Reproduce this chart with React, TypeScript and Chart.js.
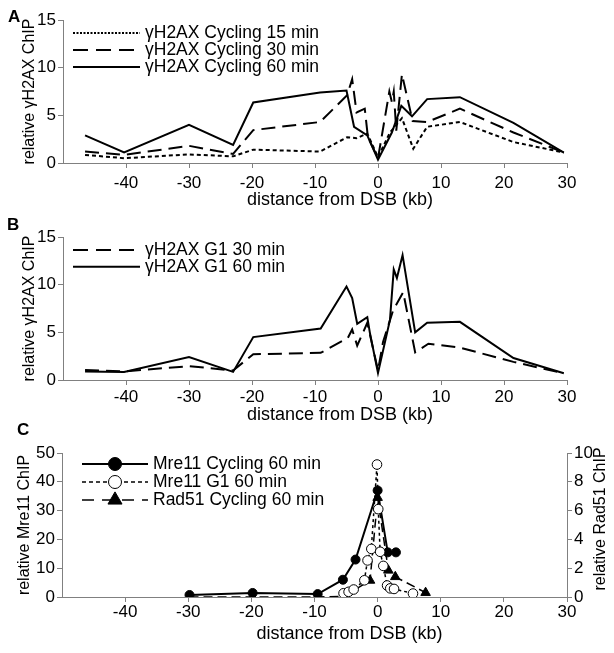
import React, { useEffect, useRef } from 'react';
import { Chart, registerables } from 'chart.js';

Chart.register(...registerables);

const FONT = '"Liberation Sans", Arial, Helvetica, sans-serif';

// ---------- shared axis text ----------
const xTitleText = 'distance from DSB (kb)';
const xTickValues = [-40, -30, -20, -10, 0, 10, 20, 30];
const yTitleAB = 'relative γH2AX ChIP';
const yTitleC = 'relative Mre11 ChIP';
const yTitleC2 = 'relative Rad51 ChIP';

// ---------- Panel A: γH2AX in cycling cells ----------
const aLabels = ['γH2AX Cycling 15 min', 'γH2AX Cycling 30 min', 'γH2AX Cycling 60 min'];
const aCyc15X = [-46.5, -40.3, -30, -23, -19.8, -9.2, -4.9, -3.4, -1.7, 0, 1.9, 3.8, 5.6, 7.8, 13, 21.5, 29.5];
const aCyc15Y = [0.85, 0.5, 0.9, 0.7, 1.4, 1.2, 2.7, 2.6, 3.1, 0.6, 3.2, 4.7, 1.5, 3.8, 4.3, 2.2, 1.1];
const aCyc30X = [-46.5, -40.3, -30, -23, -19.8, -9.2, -4.9, -4.1, -3.4, -2.1, -1.6, 0, 1.8, 2.2, 2.5, 2.9, 3.8, 5.5, 7.8, 13, 21.5, 29.5];
const aCyc30Y = [1.2, 0.85, 1.8, 0.95, 3.45, 4.3, 7.1, 8.8, 5.3, 5.7, 2.7, 0.5, 7.5, 6.4, 7.5, 3.4, 9.3, 4.4, 4.3, 5.7, 3.2, 1.1];
const aCyc60X = [-46.5, -40.3, -30, -23, -19.8, -9.2, -5, -3.8, -1.7, 0, 2.2, 3.7, 5.4, 7.8, 13, 21.5, 29.5];
const aCyc60Y = [2.9, 1.1, 4.0, 1.9, 6.35, 7.4, 7.6, 3.8, 2.9, 0.35, 3.2, 6.0, 4.9, 6.7, 6.9, 4.2, 1.1];

// ---------- Panel B: γH2AX in G1 cells ----------
const bLabels = ['γH2AX G1 30 min', 'γH2AX G1 60 min'];
const bG130X = [-46.5, -40.3, -30, -23, -19.8, -9.1, -4.8, -4.1, -3.3, -1.7, 0, 0.8, 2.4, 4.0, 5.9, 8.0, 13, 21.5, 29.5];
const bG130Y = [1.05, 0.9, 1.45, 1.0, 2.7, 2.85, 4.4, 5.3, 3.6, 6.0, 1.0, 4.0, 7.3, 9.2, 2.9, 3.8, 3.4, 1.9, 0.7];
const bG160X = [-46.5, -40.3, -30, -23, -19.8, -9.1, -5, -4.1, -3.3, -1.7, -1.3, 0, 1.9, 2.5, 3.0, 3.9, 5.9, 7.8, 13, 21.5, 29.5];
const bG160Y = [0.9, 0.85, 2.4, 0.85, 4.5, 5.4, 9.8, 8.6, 5.9, 6.6, 5.0, 0.75, 6.3, 11.6, 10.7, 13.1, 5.0, 6.0, 6.1, 2.3, 0.7];

// ---------- Panel C: Mre11 / Rad51 ----------
const cLabels = ['Mre11 Cycling 60 min', 'Mre11 G1 60 min', 'Rad51 Cycling 60 min'];
const cMreCycX = [-29.8, -19.8, -9.5, -5.5, -3.5, 0, 1.6, 2.9];
const cMreCycY = [0.7, 1.4, 1.0, 6.0, 13.0, 37, 15.5, 15.5];
const cMreG1X = [-5.4, -4.6, -3.8, -2.1, -1.6, -1.0, -0.1, 0.1, 0.4, 0.9, 1.5, 2.0, 2.6, 5.6];
const cMreG1Y = [1.3, 1.8, 2.6, 5.8, 12.7, 16.7, 46, 30.5, 15.7, 10.8, 4.0, 3.0, 2.8, 1.2];
const cRad51X = [-29.8, -19.8, -9.5, -5.3, -1.2, 0, 1.7, 2.8, 7.6];
const cRad51Y = [0, 0, 0, 0.05, 1.15, 6.9, 1.85, 1.4, 0.3];

const pts = (xs: number[], ys: number[]) => xs.map((x, i) => ({ x, y: ys[i] }));

// ---------- overlay plugin: in-plot legend, x title, right title ----------
const overlayPlugin: any = {
  id: 'overlay',
  afterDraw(chart: any, _args: any, opts: any) {
    const { ctx, chartArea } = chart;
    const { left, right, top, bottom } = chartArea;
    ctx.save();
    const lg = opts.legend;
    if (lg) {
      chart.data.datasets.forEach((ds: any, i: number) => {
        const y = top + lg.top + i * lg.row;
        const x0 = left + lg.left;
        const x1 = x0 + lg.len;
        ctx.save();
        ctx.strokeStyle = ds.borderColor;
        ctx.lineWidth = ds.borderWidth;
        ctx.setLineDash(lg.dash && lg.dash[i] ? lg.dash[i] : ds.borderDash || []);
        ctx.beginPath();
        ctx.moveTo(x0, y);
        ctx.lineTo(x1, y);
        ctx.stroke();
        ctx.setLineDash([]);
        if (ds.pointRadius > 0) {
          const cx = (x0 + x1) / 2;
          const r = lg.marker;
          ctx.fillStyle = ds.pointBackgroundColor;
          ctx.strokeStyle = ds.pointBorderColor;
          ctx.lineWidth = ds.pointBorderWidth;
          ctx.beginPath();
          if (ds.pointStyle === 'triangle') {
            const rr = r * 1.25;
            ctx.moveTo(cx, y - rr);
            ctx.lineTo(cx + rr * 0.866, y + rr * 0.5);
            ctx.lineTo(cx - rr * 0.866, y + rr * 0.5);
            ctx.closePath();
          } else {
            ctx.arc(cx, y, r, 0, Math.PI * 2);
          }
          ctx.fill();
          ctx.stroke();
        }
        ctx.restore();
        ctx.fillStyle = '#000';
        ctx.font = `${lg.size}px ${FONT}`;
        ctx.textAlign = 'left';
        ctx.textBaseline = 'middle';
        ctx.fillText(ds.label, x1 + lg.gap, y);
      });
    }
    const xt = opts.xTitle;
    if (xt) {
      ctx.fillStyle = '#000';
      ctx.font = `${xt.size}px ${FONT}`;
      ctx.textAlign = 'center';
      ctx.textBaseline = 'middle';
      ctx.fillText(xt.text, (left + right) / 2 + xt.dx, bottom + xt.dy);
    }
    const rt = opts.rightTitle;
    if (rt) {
      ctx.save();
      ctx.fillStyle = '#000';
      ctx.font = `${rt.size}px ${FONT}`;
      ctx.textAlign = 'center';
      ctx.textBaseline = 'middle';
      ctx.translate(rt.x, (top + bottom) / 2 + (rt.dy || 0));
      ctx.rotate(-Math.PI / 2);
      ctx.fillText(rt.text, 0, 0);
      ctx.restore();
    }
    ctx.restore();
  },
};

const AXIS_COLOR = '#808080';
const tickFont = { family: FONT, size: 17 };

function xScale(pad: number, h: number) {
  return {
    type: 'linear',
    position: 'bottom',
    min: -50,
    max: 30,
    afterBuildTicks: (s: any) => {
      s.ticks = xTickValues.map((v) => ({ value: v }));
    },
    ticks: {
      font: tickFont,
      color: '#000',
      padding: pad,
      autoSkip: false,
      maxRotation: 0,
      callback: (v: any) => String(v),
    },
    grid: { drawOnChartArea: false, drawTicks: true, tickLength: 5, color: AXIS_COLOR },
    border: { color: AXIS_COLOR, width: 1 },
    afterFit: (s: any) => {
      s.height = h;
    },
  };
}

function yScale(max: number, step: number, title: string, width: number, titlePad: number, position = 'left') {
  return {
    type: 'linear',
    position,
    min: 0,
    max,
    ticks: { stepSize: step, font: tickFont, color: '#000', padding: 2 },
    grid: { drawOnChartArea: false, drawTicks: true, tickLength: 5, color: AXIS_COLOR },
    border: { color: AXIS_COLOR, width: 1 },
    title: {
      display: !!title,
      text: title,
      color: '#000',
      font: { family: FONT, size: 16 },
      padding: { top: titlePad, bottom: 0 },
    },
    afterFit: (s: any) => {
      s.width = width;
    },
  };
}

const lineDs = (label: string, data: any[], dash: number[]) => ({
  type: 'line',
  label,
  data,
  borderColor: '#000',
  borderWidth: 2,
  borderDash: dash,
  pointRadius: 0,
  tension: 0,
  fill: false,
});

const DASH_DOT = [4, 3];
const DASH_LONG = [14, 7];

function configA() {
  return {
    type: 'line',
    data: {
      datasets: [
        lineDs(aLabels[0], pts(aCyc15X, aCyc15Y), DASH_DOT),
        lineDs(aLabels[1], pts(aCyc30X, aCyc30Y), DASH_LONG),
        lineDs(aLabels[2], pts(aCyc60X, aCyc60Y), []),
      ],
    },
    options: {
      responsive: false,
      animation: false,
      events: [],
      layout: { padding: { top: 20, right: 47, bottom: 0, left: 0 } },
      scales: {
        x: xScale(5, 49),
        y: yScale(15, 5, yTitleAB, 63, 20),
      },
      plugins: {
        legend: { display: false },
        tooltip: { enabled: false },
        overlay: {
          legend: { left: 10, top: 13, row: 17, len: 67, gap: 5, size: 17.5, marker: 0, dash: [[2, 1.5], [15, 8], []] },
          xTitle: { text: xTitleText, dx: 25, dy: 37, size: 18 },
        },
      },
    },
    plugins: [overlayPlugin],
  };
}

function configB() {
  return {
    type: 'line',
    data: {
      datasets: [
        lineDs(bLabels[0], pts(bG130X, bG130Y), DASH_LONG),
        lineDs(bLabels[1], pts(bG160X, bG160Y), []),
      ],
    },
    options: {
      responsive: false,
      animation: false,
      events: [],
      layout: { padding: { top: 25, right: 47, bottom: 0, left: 0 } },
      scales: {
        x: xScale(2, 48),
        y: yScale(15, 5, yTitleAB, 63, 20),
      },
      plugins: {
        legend: { display: false },
        tooltip: { enabled: false },
        overlay: {
          legend: { left: 10, top: 13, row: 16.7, len: 67, gap: 5, size: 17.5, marker: 0, dash: [[15, 8], []] },
          xTitle: { text: xTitleText, dx: 25, dy: 35, size: 18 },
        },
      },
    },
    plugins: [overlayPlugin],
  };
}

function configC() {
  return {
    type: 'line',
    data: {
      datasets: [
        {
          type: 'line',
          label: cLabels[0],
          data: pts(cMreCycX, cMreCycY),
          yAxisID: 'y',
          borderColor: '#000',
          borderWidth: 2,
          borderDash: [],
          pointRadius: 4.5,
          pointStyle: 'circle',
          pointBackgroundColor: '#000',
          pointBorderColor: '#000',
          pointBorderWidth: 1,
          tension: 0,
          order: 1,
        },
        {
          type: 'line',
          label: cLabels[1],
          data: pts(cMreG1X, cMreG1Y),
          yAxisID: 'y',
          borderColor: '#000',
          borderWidth: 1.5,
          borderDash: [3, 3],
          pointRadius: 4.8,
          pointStyle: 'circle',
          pointBackgroundColor: '#fff',
          pointBorderColor: '#000',
          pointBorderWidth: 1,
          tension: 0,
          order: 0,
        },
        {
          type: 'line',
          label: cLabels[2],
          data: pts(cRad51X, cRad51Y),
          yAxisID: 'y1',
          borderColor: '#000',
          borderWidth: 1.5,
          borderDash: [9, 5],
          pointRadius: 5.5,
          pointStyle: 'triangle',
          pointBackgroundColor: '#000',
          pointBorderColor: '#000',
          pointBorderWidth: 1,
          tension: 0,
          order: 2,
        },
      ],
    },
    options: {
      responsive: false,
      animation: false,
      events: [],
      layout: { padding: { top: 25, right: 0, bottom: 0, left: 0 } },
      scales: {
        x: xScale(0, 56),
        y: yScale(50, 10, yTitleC, 62, 15),
        y1: yScale(10, 2, '', 47, 0, 'right'),
      },
      plugins: {
        legend: { display: false },
        tooltip: { enabled: false },
        overlay: {
          legend: { left: 20, top: 11, row: 18, len: 66, gap: 5, size: 17.5, marker: 6.5, dash: [[], [4, 3], [12, 8]] },
          xTitle: { text: xTitleText, dx: 35, dy: 37, size: 18 },
          rightTitle: { text: yTitleC2, x: 601, size: 16, dy: -6 },
        },
      },
    },
    plugins: [overlayPlugin],
  };
}

function Panel({ top, height, make }: { top: number; height: number; make: () => any }) {
  const ref = useRef<HTMLCanvasElement>(null);
  useEffect(() => {
    const chart = new Chart(ref.current as HTMLCanvasElement, make());
    return () => chart.destroy();
  }, []);
  return (
    <canvas
      ref={ref}
      width={614}
      height={height}
      style={{ position: 'absolute', left: 0, top, width: 614, height, display: 'block' }}
    />
  );
}

const letterStyle = (left: number, top: number): React.CSSProperties => ({
  position: 'absolute',
  left,
  top,
  fontFamily: FONT,
  fontWeight: 'bold',
  fontSize: 17,
  lineHeight: '17px',
  color: '#000',
});

export default function App() {
  return (
    <div style={{ position: 'absolute', left: 0, top: 0, width: 614, height: 653, background: '#fff', overflow: 'hidden' }}>
      <Panel top={0} height={212} make={configA} />
      <Panel top={212} height={216} make={configB} />
      <Panel top={428} height={225} make={configC} />
      <div style={letterStyle(8, 8)}>A</div>
      <div style={letterStyle(7, 216)}>B</div>
      <div style={letterStyle(17, 421)}>C</div>
    </div>
  );
}
